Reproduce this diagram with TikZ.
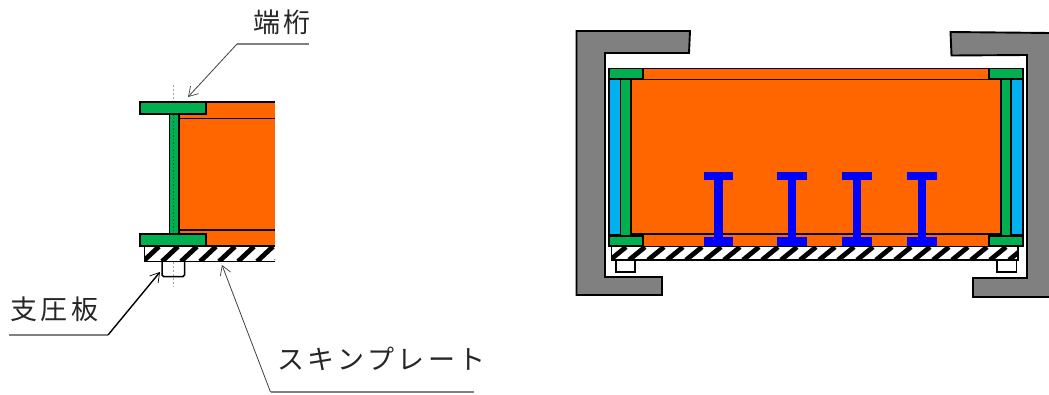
\documentclass[tikz,border=0pt]{standalone}
\usepackage{fontspec}
\newfontfamily\cjk[LetterSpace=13]{Noto Sans CJK JP}
\usetikzlibrary{arrows.meta}
\definecolor{orng}{HTML}{FF6600}
\definecolor{grn}{HTML}{00B050}
\definecolor{cyn}{HTML}{00B0F0}
\definecolor{gry}{HTML}{808080}
\tikzset{
  part/.style={draw=black,line width=1.9pt,line join=miter},
  orangepart/.style={part,fill=orng},
  greenpart/.style={part,fill=grn},
  cyanpart/.style={part,fill=cyn},
  graypart/.style={part,fill=gry},
  bluepart/.style={fill=blue},
  whitepart/.style={part,line width=1.5pt,fill=white},
  stripe/.style={black,line width=4.8pt},
  centerline/.style={draw=gray!70,line width=0.8pt,dash pattern=on 2pt off 2pt},
  leader/.style={draw=black!75,line width=0.8pt,-{Straight Barb[length=9pt,width=11pt,line width=0.7pt]}},
  shelf/.style={draw=gray,line width=1.3pt},
  lbl/.style={inner sep=0pt,font=\cjk\fontsize{27}{27}\selectfont,text=black!85}
}
\newcommand{\stripes}[5]{% x0,y0,x1,y1,count
  \begin{scope}
    \clip (#1,#2) rectangle (#3,#4);
    \foreach \k in {0,...,#5}{
      \pgfmathsetmacro{\sx}{#1+19*\k-20}
      \draw[stripe] (\sx,#4) -- ++(16,#2-#4);
    }
  \end{scope}
}
\begin{document}
\begin{tikzpicture}[x=1pt,y=-1pt]
\useasboundingbox (0,0) rectangle (1049,394);
% ---- left view
\fill[orng] (179,102) rectangle (275,246);
\draw[part] (275,102) -- (206,102);
\draw[part] (275,118.5) -- (179,118.5);
\draw[part] (275,230) -- (179,230);
\draw[part] (275,246) -- (206,246);
\draw[greenpart] (169.5,114) rectangle (179,234);
\draw[part,draw=grn!60!black,line width=0.8pt,dash pattern=on 1.5pt off 2pt] (173,114) -- (173,234);
\draw[centerline] (173,85) -- (173,101);
\draw[greenpart] (140,102) rectangle (206,114);
\draw[greenpart] (140,234) rectangle (206,246);
\stripes{144}{246.5}{275}{261.5}{10}
\draw[line width=1.5pt] (275,246.5) -- (144.5,246.5) -- (144.5,261.5) -- (275,261.5);
\draw[whitepart,rounded corners=1.5pt] (162,262) -- (162,276.5) -- (184.5,276.5) -- (184.5,262);
\draw[centerline] (173,262) -- (173,287);
% leaders
\node[lbl,anchor=west] (endbeam) at (253,22) {端桁};
\node[lbl,anchor=west] (bearing) at (10,309) {支圧板};
\node[lbl,anchor=west] (skin) at (277,359) {スキンプレート};
\coordinate (a0) at (309,44);
\coordinate (a1) at (237,44);
\coordinate (a2) at (188,97);
\coordinate (b0) at (9,335);
\coordinate (b1) at (108,335);
\coordinate (b2) at (160,272);
\coordinate (c0) at (474,392);
\coordinate (c1) at (270.5,392);
\coordinate (c2) at (222,265);
\draw[shelf] (a0) -- (a1);
\draw[leader] (a1) -- (a2);
\draw[shelf] (b0) -- (b1);
\draw[leader,draw=black,line width=1.4pt] (b1) -- (b2);
\draw[shelf] (c0) -- (c1);
\draw[leader] (c1) -- (c2);
% ---- right view: frames
\draw[graypart] (576.5,31) -- (690,31) -- (689,53) -- (605,53) -- (605,277) -- (662,277) -- (662,295) -- (576.5,295) -- cycle;
\draw[graypart] (950.5,32) -- (1051,33) -- (1051,297) -- (973,297) -- (973,278) -- (1027,278) -- (1027,55) -- (951.5,55.5) -- cycle;
% box
\draw[orangepart] (608.5,68.5) rectangle (1023.5,246.5);
\draw[orangepart] (631,79.5) rectangle (1000.5,234);
\draw[cyanpart] (609,79) rectangle (620.5,235);
\draw[cyanpart] (1011,79) rectangle (1023,235);
\draw[greenpart] (620.5,79) rectangle (630.5,236);
\draw[greenpart] (1001,79) rectangle (1010.5,236);
\draw[greenpart] (609,68.5) rectangle (643,79);
\draw[greenpart] (989,68.5) rectangle (1023,79);
\draw[greenpart] (609,236) rectangle (643,246);
\draw[greenpart] (989,236) rectangle (1023,246);
% I-beams
\foreach \ix in {703.5,777,842,907}{
  \fill[bluepart] (\ix,172) rectangle ++(29.5,8);
  \fill[bluepart] (\ix+10.7,172) rectangle ++(8.4,73);
  \fill[bluepart] (\ix,237) rectangle ++(29.5,8.5);
}
% skin plate and bearing plates
\stripes{611}{247}{1018}{260}{25}
\draw[line width=1.2pt] (611.5,247) -- (611.5,260) -- (1018,260) -- (1018,247);
\draw[whitepart] (616,260) rectangle (635,272);
\draw[whitepart] (997,260) rectangle (1016.5,272);
\end{tikzpicture}
\end{document}
